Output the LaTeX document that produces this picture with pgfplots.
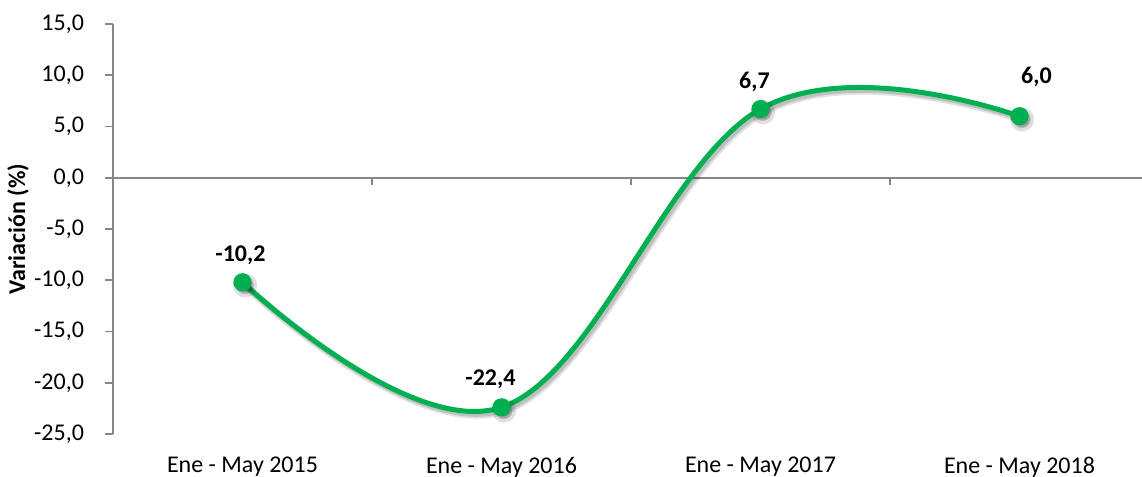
\documentclass[border=0pt]{standalone}
\usepackage{fontspec}
\setmainfont{Carlito}
\usepackage{pgfplots}
\pgfplotsset{compat=1.18}
\usepackage{pgfplotstable}
\definecolor{linegreen}{RGB}{0,176,80}
\definecolor{axgray}{RGB}{134,134,134}
\pgfplotstableread{
x y xo yo
0 -10.2 -1 13.5
1 -22.4 -5.5 14
2 6.7 -3 13.5
3 6.0 8.5 19.5
}\datatable
\begin{document}
\begin{tikzpicture}
\begin{axis}[
  scale only axis, width=514.5pt, height=205pt,
  xmin=-0.5, xmax=3.473, ymin=-25, ymax=15,
  axis y line*=left, axis x line*=bottom,
  x axis line style={draw=none},
  y axis line style={axgray, line width=0.8pt},
  ytick={-25,-20,...,15},
  xtick={0,1,2,3},
  xticklabels={Ene - May 2015, Ene - May 2016, Ene - May 2017, Ene - May 2018},
  x tick style={draw=none},
  y tick style={axgray, line width=0.8pt},
  tick align=outside, major tick length=4pt,
  /pgf/number format/use comma,
  /pgf/number format/fixed,
  /pgf/number format/fixed zerofill,
  /pgf/number format/precision=1,
  /pgf/number format/assume math mode=true,
  tick label style={font=\fontsize{12}{14}\selectfont},
  yticklabel style={xshift=-7pt},
  xticklabel style={yshift=-4pt},
  ylabel={Variación (\%)},
  every axis y label/.style={at={(axis description cs:-0.0923,0.5)}, rotate=90, anchor=center, font=\bfseries\fontsize{12}{14}\selectfont},
]
\coordinate (ll) at (rel axis cs:0,0);
\draw[axgray, line width=0.8pt] (axis cs:-0.5,0) -- (axis cs:3.473,0);
\draw[axgray, line width=0.8pt] (axis cs:0.5,0) -- ++(0pt,-3.5pt);
\draw[axgray, line width=0.8pt] (axis cs:1.5,0) -- ++(0pt,-3.5pt);
\draw[axgray, line width=0.8pt] (axis cs:2.5,0) -- ++(0pt,-3.5pt);
\addplot[black, opacity=0.12, line width=4pt, smooth, tension=0.65, mark=*, mark size=4pt,
  mark options={draw=none, fill=black}, xshift=1.3pt, yshift=-1.6pt]
  table[x=x, y=y] {\datatable};
\addplot[black, opacity=0.15, line width=2.5pt, smooth, tension=0.65, mark=*, mark size=3.3pt,
  mark options={draw=none, fill=black}, xshift=1.1pt, yshift=-1.4pt]
  table[x=x, y=y] {\datatable};
\addplot[linegreen, line width=2.5pt, smooth, tension=0.65, mark=*, mark size=3.3pt,
  mark options={draw=none, fill=linegreen},
  nodes near coords, point meta=explicit,
  visualization depends on={\thisrow{xo} \as \xo},
  visualization depends on={\thisrow{yo} \as \yo},
  nodes near coords style={anchor=center, xshift=\xo pt, yshift=\yo pt, text=black,
    font=\bfseries\fontsize{12}{14}\selectfont}]
  table[x=x, y=y, meta=y] {\datatable};
\end{axis}
\pgfresetboundingbox
\path[use as bounding box] (ll) ++(-56.5pt,-21.5pt) rectangle ++(571pt,238.5pt);
\end{tikzpicture}
\end{document}
